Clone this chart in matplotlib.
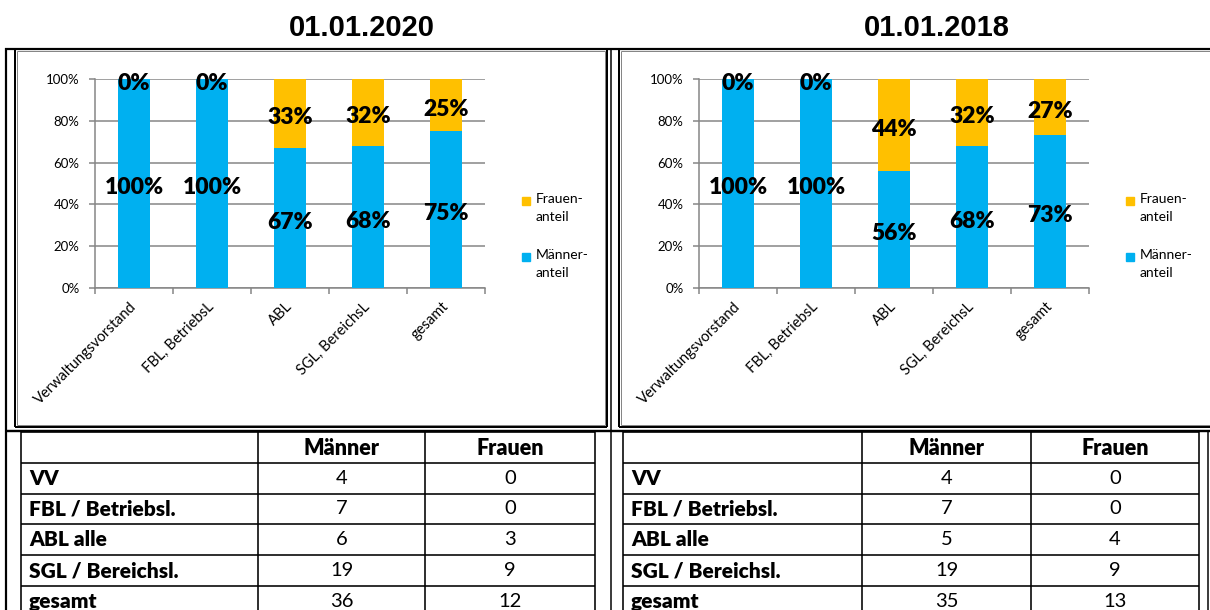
import numpy as np
import matplotlib.pyplot as plt

plt.rcParams['font.family'] = ['Lato', 'DejaVu Sans']

W, H = 1210, 610

categories = ['Verwaltungsvorstand', 'FBL, BetriebsL', 'ABL', 'SGL, BereichsL', 'gesamt']

# Anteile in Prozent
maenner_2020 = [100, 100, 67, 68, 75]
frauen_2020 = [0, 0, 33, 32, 25]
maenner_2018 = [100, 100, 56, 68, 73]
frauen_2018 = [0, 0, 44, 32, 27]

# Anzahl Personen fuer die Tabellen
row_labels = ['VV', 'FBL / Betriebsl.', 'ABL alle', 'SGL / Bereichsl.', 'gesamt']
col_labels = ['Männer', 'Frauen']
anzahl_m_2020 = [4, 7, 6, 19, 36]
anzahl_f_2020 = [0, 0, 3, 9, 12]
anzahl_m_2018 = [4, 7, 5, 19, 35]
anzahl_f_2018 = [0, 0, 4, 9, 13]

legend_labels = ['Frauen-\nanteil', 'Männer-\nanteil']

BLUE = '#00B0F0'
GOLD = '#FFC000'
GRID = '#868686'

fig = plt.figure(figsize=(W / 100, H / 100), dpi=100)

# Hintergrund-Achse in Pixelkoordinaten fuer Rahmen, Tabellen, Titel
bg = fig.add_axes([0, 0, 1, 1])
bg.set_xlim(0, W)
bg.set_ylim(H, 0)
bg.axis('off')


def px(w):
    return w * 0.72


def hline(y, x0, x1, lw=1.5, color='black'):
    bg.plot([x0, x1], [y, y], color=color, lw=px(lw), solid_capstyle='butt')


def vline(x, y0, y1, lw=1.5, color='black'):
    bg.plot([x, x], [y0, y1], color=color, lw=px(lw), solid_capstyle='butt')


def frame(x0, y0, x1, y1):
    for c, lw, d in [('black', 2, 0), (GRID, 1, 2)]:
        hline(y0 + d, x0 + d, x1 - d, lw, c)
        hline(y1 - d, x0 + d, x1 - d, lw, c)
        vline(x0 + d, y0 + d, y1 - d, lw, c)
        vline(x1 - d, y0 + d, y1 - d, lw, c)


def draw_chart(left, maenner, frauen, leg_x):
    ax = fig.add_axes([left / W, 1 - 288 / H, 390 / W, 209 / H])
    x = np.arange(len(categories))
    bm = ax.bar(x, maenner, 0.4, color=BLUE, zorder=3)
    bf = ax.bar(x, frauen, 0.4, bottom=maenner, color=GOLD, zorder=3)
    for cont, vals in [(bm, maenner), (bf, frauen)]:
        txts = ax.bar_label(cont, labels=[f'{v}%' for v in vals], label_type='center',
                            fontsize=16.5, fontweight='heavy', zorder=5)
        for t in txts:
            t.xyann = (0, -3)
    ax.set_xlim(-0.5, len(categories) - 0.5)
    ax.set_ylim(0, 100)
    ax.set_yticks(range(0, 101, 20))
    ax.set_yticklabels([f'{v}%' for v in range(0, 101, 20)])
    ax.yaxis.grid(True, color=GRID, lw=1.1)
    ax.set_axisbelow(True)
    for s in ['top', 'right']:
        ax.spines[s].set_visible(False)
    for s in ['left', 'bottom']:
        ax.spines[s].set_color(GRID)
        ax.spines[s].set_linewidth(1.1)
    ax.set_xticks(x)
    ax.set_xticklabels(categories, rotation=45, ha='right', va='center',
                       rotation_mode='anchor', fontsize=10.5)
    ax.set_xticks(np.arange(-0.5, len(categories), 1), minor=True)
    ax.tick_params(axis='x', which='major', length=0, pad=12)
    ax.tick_params(axis='x', which='minor', length=4, color=GRID, width=1.1)
    ax.tick_params(axis='y', length=4, color=GRID, width=1.1, labelsize=9.5, pad=7)

    # Legende
    for lab, col, y in zip(legend_labels, [GOLD, BLUE], [201, 257]):
        bg.add_patch(plt.Rectangle((leg_x, y - 4), 8, 8, color=col))
        bg.text(leg_x + 14, y - 8, lab, fontsize=10, va='top', ha='left',
                linespacing=1.6)
    return ax


def draw_table(xs, m_vals, f_vals):
    ys = [432, 463, 494, 524, 555, 586, 617]
    for y in ys[:-1]:
        hline(y, xs[0], xs[-1], 1.6)
    for xx in xs:
        vline(xx, 432, H, 1.6)
    hy = (ys[0] + ys[1]) / 2
    for i, lab in enumerate(col_labels):
        bg.text((xs[i + 1] + xs[i + 2]) / 2, hy + 1, lab, ha='center', va='center',
                fontsize=15.5, fontweight='heavy')
    for r, lab in enumerate(row_labels):
        cy = (ys[r + 1] + ys[r + 2]) / 2
        bg.text(xs[0] + 8, cy, lab, ha='left', va='center', fontsize=15,
                fontweight='heavy')
        bg.text((xs[1] + xs[2]) / 2, cy, str(m_vals[r]), ha='center', va='center',
                fontsize=14.5)
        bg.text((xs[2] + xs[3]) / 2, cy, str(f_vals[r]), ha='center', va='center',
                fontsize=14.5)


# Rahmen der Layout-Tabelle
hline(48.5, 5, W, 2.2)
vline(6, 48, H, 2.2)
vline(611, 48, H, 1.5)
hline(431, 6, W, 2.4)
vline(1208, 431, H, 1.5)
frame(15, 49, 607, 427)
frame(619, 49, W + 5, 427)

bg.text(362, 28, '01.01.2020', ha='center', va='center', fontsize=21,
        fontweight='bold', family='Liberation Sans')
bg.text(937, 28, '01.01.2018', ha='center', va='center', fontsize=21,
        fontweight='bold', family='Liberation Sans')

draw_chart(95, maenner_2020, frauen_2020, 522)
draw_chart(699, maenner_2018, frauen_2018, 1126)

draw_table([21, 258, 425, 595], anzahl_m_2020, anzahl_f_2020)
draw_table([623, 862, 1031, 1199], anzahl_m_2018, anzahl_f_2018)

fig.savefig('out.png', dpi=100)
